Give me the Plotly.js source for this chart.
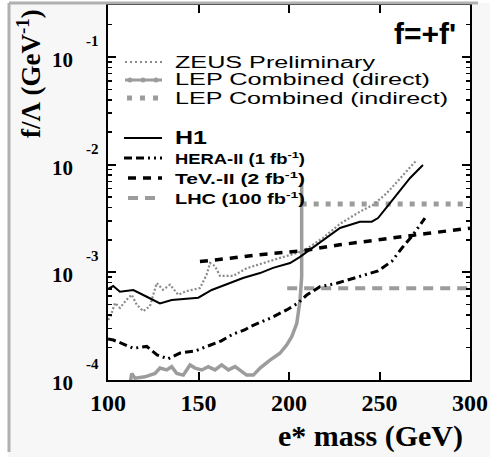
<!DOCTYPE html>
<html><head><meta charset="utf-8">
<script src="https://cdn.plot.ly/plotly-3.0.1.min.js"></script>
<style>body{margin:0;background:#fff}</style>
</head><body><div id="plot" style="width:490px;height:457px"></div>
<script>
// ---- data ----
const h1Mass=[100,102.9,106.6,114,121.4,128.7,135.2,140.7,149.9,157.3,164.6,170.2,174.6,184,191.2,200.6,206.1,228.2,233.7,239.2,245.7,249.2,255.8,261.3,266.9,274];
const h1F=[7.00e-4,7.46e-4,6.61e-4,6.85e-4,5.93e-4,5.15e-4,5.53e-4,5.61e-4,5.81e-4,6.85e-4,7.62e-4,8.36e-4,8.85e-4,9.84e-4,1.10e-3,1.22e-3,1.39e-3,2.58e-3,2.75e-3,2.95e-3,2.95e-3,3.19e-3,4.40e-3,5.81e-3,7.52e-3,9.91e-3];

const zeusMass=[100,101.1,103.9,106.6,110.3,113.1,115.9,119.5,123.2,126.9,130.4,134.3,138.8,143.5,150.8,154.5,156.4,159.1,161.9,169.1,176.6,185.6,195,204.3,208.8,218.8,228.2,239.2,246.4,254,261.3,270.5];
const zeusF=[3.63e-4,3.77e-4,5.19e-4,4.67e-4,5.57e-4,6.19e-4,5.00e-4,4.35e-4,4.86e-4,7.94e-4,6.89e-4,7.67e-4,6.19e-4,6.70e-4,7.14e-4,9.51e-4,1.22e-3,1.14e-3,9.25e-4,9.25e-4,1.09e-3,1.22e-3,1.36e-3,1.51e-3,1.61e-3,2.09e-3,2.82e-3,3.66e-3,4.22e-3,5.42e-3,7.46e-3,1.10e-2];

const lepDirMass=[112,113.1,114.9,120.4,126,128.7,132.4,135.2,138,141.6,145.3,148.1,151.8,155.4,159.1,162.8,166.5,170.2,176.6,180.3,184,189.5,195,198.7,201.5,204.3,205.1,206.1,207,207,207];
const lepDirF=[8.91e-5,1.15e-4,1.04e-4,1.07e-4,1.15e-4,1.29e-4,1.24e-4,1.33e-4,1.15e-4,1.11e-4,1.38e-4,1.29e-4,1.24e-4,1.33e-4,1.24e-4,1.38e-4,1.24e-4,1.33e-4,1.11e-4,1.11e-4,1.29e-4,1.53e-4,1.77e-4,2.11e-4,2.52e-4,3.36e-4,4.16e-4,5.53e-4,9.10e-4,1.61e-3,6.75e-3];

const lepIndMass=[207,300];
const lepIndF=[4.3e-3,4.3e-3];

const heraMass=[100,102.9,107.6,114,121.4,127.1,133.1,139.8,148.1,155.2,162.4,169.2,175.7,178.5,189.5,198.7,205,209.8,217.1,226.4,236.5,249.2,256.9,262.4,268,275.1];
const heraF=[2.40e-4,2.35e-4,2.19e-4,1.97e-4,2.05e-4,1.71e-4,1.57e-4,1.78e-4,1.86e-4,2.07e-4,2.30e-4,2.67e-4,2.93e-4,3.13e-4,3.74e-4,4.47e-4,5.19e-4,6.15e-4,7.35e-4,7.91e-4,8.85e-4,1.03e-3,1.27e-3,1.68e-3,2.17e-3,3.19e-3];

const tevMass=[150.8,159,167.5,182,188,207,228,252,276,300];
const tevF=[1.26e-3,1.30e-3,1.35e-3,1.45e-3,1.48e-3,1.58e-3,1.80e-3,2.04e-3,2.29e-3,2.57e-3];

const lhcMass=[199,300];
const lhcF=[7.1e-4,7.1e-4];

const xTicks=[100,150,200,250,300];
const yDecades=[-4,-3,-2,-1];
const yRange=[-4,-0.518];

// ---- layout helpers (pixel -> paper) ----
const L=108,R=470,T=5,B=380;
const px=x=>(x-L)/(R-L), py=y=>(B-y)/(B-T);
const pyLog=d=>(d-yRange[0])/(yRange[1]-yRange[0]);
const GRAY='#9c9c9c', DGRAY='#8a8a8a';

const traces=[
 {x:lhcMass,y:lhcF,mode:'lines',line:{color:GRAY,width:4,dash:'10px,7px'}},
 {x:lepIndMass,y:lepIndF,mode:'lines',line:{color:GRAY,width:5,dash:'5px,7px'}},
 {x:lepDirMass,y:lepDirF,mode:'lines',line:{color:GRAY,width:3.5}},
 {x:zeusMass,y:zeusF,mode:'lines',line:{color:DGRAY,width:2.2,dash:'2px,2px'}},
 {x:heraMass,y:heraF,mode:'lines',line:{color:'#000',width:3,dash:'8px,4px,8px,4px,2px,4px,2px,4px'}},
 {x:tevMass,y:tevF,mode:'lines',line:{color:'#000',width:3.5,dash:'8px,7px'}},
 {x:h1Mass,y:h1F,mode:'lines',line:{color:'#000',width:2}}
].map(t=>Object.assign(t,{showlegend:false,hoverinfo:'skip'}));

// legend entries
const legend=[
 {text:'ZEUS Preliminary',y:62,w:200,font:{family:'Liberation Sans',size:16,color:'#000'},line:{color:DGRAY,width:2.2,dash:'2px,3px'},x0:125},
 {text:'LEP Combined (direct)',y:80,w:255,font:{family:'Liberation Sans',size:16,color:'#000'},line:{color:GRAY,width:3},x0:125,dots:true},
 {text:'LEP Combined (indirect)',y:98,w:273,font:{family:'Liberation Sans',size:16,color:'#000'},line:{color:GRAY,width:5,dash:'5px,8px'},x0:127},
 {text:'H1',y:138,w:32,font:{family:'Liberation Sans',size:18,weight:'bold',color:'#000'},line:{color:'#000',width:2},x0:124},
 {text:'HERA-II (1 fb<sup>-1</sup>)',y:158,w:130,font:{family:'Liberation Sans',size:14,weight:'bold',color:'#000'},line:{color:'#000',width:3,dash:'8px,4px,8px,4px,2px,4px,2px,4px'},x0:124},
 {text:'TeV.-II (2 fb<sup>-1</sup>)',y:178,w:130,font:{family:'Liberation Sans',size:14,weight:'bold',color:'#000'},line:{color:'#000',width:3.5,dash:'8px,7px'},x0:128},
 {text:'LHC (100 fb<sup>-1</sup>)',y:198,w:130,font:{family:'Liberation Sans',size:14,weight:'bold',color:'#000'},line:{color:GRAY,width:4,dash:'10px,7px'},x0:128}
];

const shapes=[
 {type:'rect',xref:'paper',yref:'paper',x0:px(0),x1:px(8),y0:py(457),y1:py(0),fillcolor:'#ffffff',line:{width:0},layer:'below'},
 {type:'rect',xref:'paper',yref:'paper',x0:px(0),x1:px(490),y0:py(3),y1:py(0),fillcolor:'#ffffff',line:{width:0},layer:'below'},
 {type:'line',xref:'paper',yref:'paper',x0:px(9),x1:px(9),y0:py(452),y1:py(3),line:{color:'#b0b0b0',width:3}},
 {type:'line',xref:'paper',yref:'paper',x0:px(9),x1:px(478),y0:py(3),y1:py(3),line:{color:'#b0b0b0',width:3}}
];
const annotations=[];
const stretch={};
legend.forEach(e=>{
  shapes.push({type:'line',xref:'paper',yref:'paper',x0:px(e.x0),x1:px(162),y0:py(e.y),y1:py(e.y),line:e.line});
  if(e.dots){[130,143,156].forEach(c=>shapes.push({type:'circle',xref:'paper',yref:'paper',x0:px(c-2.5),x1:px(c+2.5),y0:py(e.y+2.5),y1:py(e.y-2.5),fillcolor:GRAY,line:{width:0}}));}
  stretch[annotations.length]=e.w;
  annotations.push({xref:'paper',yref:'paper',x:px(173),y:py(e.y),xanchor:'left',yanchor:'middle',align:'left',text:e.text,showarrow:false,font:e.font});
});
annotations.push({xref:'paper',yref:'paper',x:px(392),y:py(33),xanchor:'left',yanchor:'middle',align:'left',text:"f=+f'",showarrow:false,font:{family:'Liberation Sans',size:30,weight:'bold',color:'#000'}});
// y tick labels (10 with a raised exponent), placed at each decade of the log axis
yDecades.forEach(d=>{
  annotations.push({xref:'paper',yref:'paper',x:px(62),y:pyLog(d),xanchor:'center',yanchor:'middle',yshift:-3,text:'10',showarrow:false,font:{family:'Liberation Serif',size:21,weight:'bold',color:'#000'}});
  annotations.push({xref:'paper',yref:'paper',x:px(92),y:pyLog(d),xanchor:'center',yanchor:'middle',yshift:16,text:'-'+Math.abs(d),showarrow:false,font:{family:'Liberation Serif',size:15,weight:'bold',color:'#000'}});
});
// axis titles
annotations.push({xref:'paper',yref:'paper',x:px(29),y:py(74),xanchor:'center',yanchor:'middle',textangle:-90,text:'f/Λ (GeV<sup>-1</sup>)',showarrow:false,font:{family:'Liberation Serif',size:27,weight:'bold',color:'#000'}});
annotations.push({xref:'paper',yref:'paper',x:px(370),y:py(436),xanchor:'center',yanchor:'middle',text:'e* mass (GeV)',showarrow:false,font:{family:'Liberation Serif',size:30,weight:'bold',color:'#000'}});

const layout={
  width:490,height:457,
  margin:{l:L,r:490-R,t:T,b:457-B},
  paper_bgcolor:'#f7f7f7',plot_bgcolor:'#ffffff',
  showlegend:false,
  xaxis:{range:[100,300],tickvals:xTicks,ticktext:xTicks.map(String),ticks:'inside',ticklen:8,tickwidth:2,tickcolor:'#000',
    showline:true,linewidth:2,linecolor:'#000',mirror:'ticks',showgrid:false,zeroline:false,
    tickfont:{family:'Liberation Serif',size:24,weight:'bold',color:'#000'}},
  yaxis:{type:'log',range:yRange,dtick:1,ticks:'inside',ticklen:8,tickwidth:2,tickcolor:'#000',
    showline:true,linewidth:2,linecolor:'#000',mirror:'ticks',showgrid:false,zeroline:false,showticklabels:false,
    minor:{ticks:'inside',ticklen:4,tickwidth:1.5,tickcolor:'#000',showgrid:false}},
  shapes:shapes,annotations:annotations
};

Plotly.newPlot('plot',traces,layout,{staticPlot:true}).then(()=>{
  document.querySelectorAll('.annotation').forEach(g=>{
    const i=+g.getAttribute('data-index');
    if(stretch[i]===undefined) return;
    const t=g.querySelector('text.annotation-text');
    if(!t) return;
    t.setAttribute('textLength',stretch[i]);
    t.setAttribute('lengthAdjust','spacingAndGlyphs');
  });
});
</script></body></html>
